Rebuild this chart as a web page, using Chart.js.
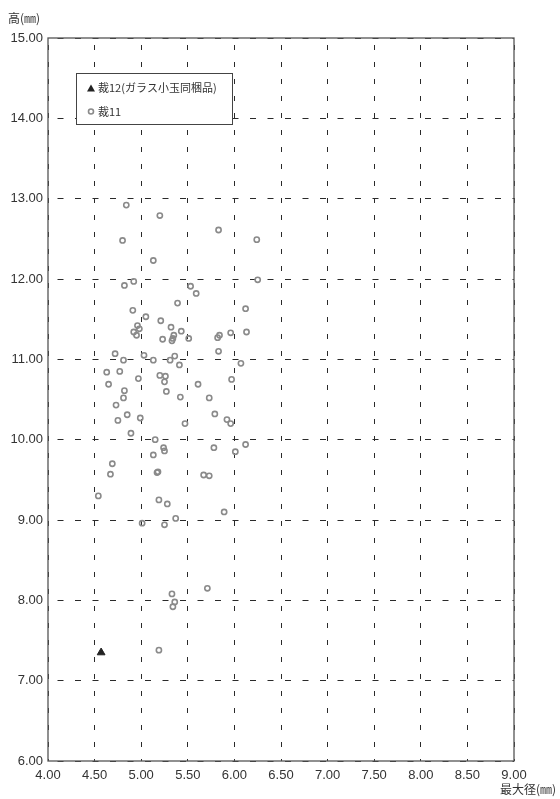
<!DOCTYPE html>
<html>
<head>
<meta charset="utf-8">
<script src="https://cdn.jsdelivr.net/npm/chart.js@4"></script>
<style>
html,body{margin:0;padding:0;background:#fff;}
#wrap{position:relative;width:560px;height:799px;}
</style>
</head>
<body>
<div id="wrap"><canvas id="c" width="560" height="799"></canvas></div>
<script>
const seriesNames = ["裁12(ガラス小玉同梱品)", "裁11"];
const xTitle = "最大径(㎜)";
const yTitle = "高(㎜)";
const xTickValues = [4.0, 4.5, 5.0, 5.5, 6.0, 6.5, 7.0, 7.5, 8.0, 8.5, 9.0];
const yTickValues = [6, 7, 8, 9, 10, 11, 12, 13, 14, 15];

const s12X = [4.57];
const s12Y = [7.35];

const s11X = [4.84, 5.20, 5.83, 6.24, 4.80, 5.13, 4.92, 6.25, 4.82, 5.53,
              5.59, 5.39, 6.12, 4.91, 5.05, 5.21, 4.96, 4.98, 5.32, 4.92,
              4.95, 5.43, 5.35, 5.34, 5.33, 5.23, 5.51, 5.84, 5.82, 5.96,
              6.13, 5.83, 4.72, 5.03, 5.36, 4.81, 5.13, 5.31, 5.41, 6.07,
              4.63, 4.77, 4.97, 5.20, 5.26, 5.25, 4.65, 5.61, 5.97, 4.82,
              5.27, 4.81, 5.42, 5.73, 4.73, 4.85, 5.79, 4.75, 4.99, 5.92,
              5.96, 5.47, 4.89, 5.15, 6.12, 5.24, 5.25, 5.13, 5.78, 6.01,
              4.69, 4.67, 5.17, 5.18, 5.67, 5.73, 4.54, 5.19, 5.28, 5.89,
              5.37, 5.01, 5.25, 5.33, 5.36, 5.34, 5.71, 5.19];
const s11Y = [12.92, 12.79, 12.61, 12.49, 12.48, 12.23, 11.97, 11.99, 11.92, 11.91,
              11.82, 11.70, 11.63, 11.61, 11.53, 11.48, 11.42, 11.38, 11.40, 11.34,
              11.30, 11.35, 11.30, 11.26, 11.23, 11.25, 11.26, 11.30, 11.27, 11.33,
              11.34, 11.10, 11.07, 11.05, 11.04, 10.99, 10.99, 10.99, 10.93, 10.95,
              10.84, 10.85, 10.76, 10.80, 10.79, 10.72, 10.69, 10.69, 10.75, 10.61,
              10.60, 10.52, 10.53, 10.52, 10.43, 10.31, 10.32, 10.24, 10.27, 10.25,
              10.20, 10.20, 10.08, 10.00, 9.94, 9.90, 9.86, 9.81, 9.90, 9.85,
              9.70, 9.57, 9.59, 9.60, 9.56, 9.55, 9.30, 9.25, 9.20, 9.10,
              9.02, 8.96, 8.94, 8.08, 7.98, 7.92, 8.15, 7.38];

const toPts = (xs, ys) => xs.map((x, i) => ({x: x, y: ys[i]}));

const NUM_FONT = "'Liberation Sans', Arial, sans-serif";
const CJK_FONT = "'Noto Sans CJK JP', 'Noto Sans', sans-serif";
const GRID = '#2a2a2a';
const FRAME = '#555';

const decor = {
  id: 'decor',
  afterDraw(chart) {
    const ctx = chart.ctx, a = chart.chartArea;
    ctx.save();
    ctx.strokeStyle = FRAME;
    ctx.lineWidth = 1.3;
    ctx.setLineDash([]);
    ctx.strokeRect(a.left, a.top, a.right - a.left, a.bottom - a.top);
    ctx.fillStyle = '#333';
    ctx.font = "12px " + CJK_FONT;
    ctx.textBaseline = 'middle';
    ctx.textAlign = 'left';
    ctx.fillText(yTitle, 8, 18);
    ctx.textAlign = 'right';
    ctx.fillText(xTitle, 556, 789);
    const bx = 76, by = 73, bw = 156, bh = 51;
    ctx.fillStyle = '#fff';
    ctx.fillRect(bx, by, bw, bh);
    ctx.strokeStyle = '#444';
    ctx.lineWidth = 1;
    ctx.strokeRect(bx + 0.5, by + 0.5, bw, bh);
    const ds = chart.data.datasets;
    ctx.fillStyle = '#222';
    ctx.beginPath();
    ctx.moveTo(91, 84.5); ctx.lineTo(95, 91.5); ctx.lineTo(87, 91.5); ctx.closePath();
    ctx.fill();
    ctx.strokeStyle = '#8a8a8a';
    ctx.lineWidth = 1.6;
    ctx.beginPath();
    ctx.arc(91, 111.5, 2.5, 0, Math.PI * 2);
    ctx.stroke();
    ctx.fillStyle = '#333';
    ctx.font = "11px " + CJK_FONT;
    ctx.textAlign = 'left';
    ctx.textBaseline = 'middle';
    ctx.fillText(ds[0].label, 98, 88);
    ctx.fillText(ds[1].label, 98, 112);
    ctx.restore();
  }
};

new Chart(document.getElementById('c'), {
  type: 'scatter',
  data: {
    datasets: [
      {
        label: seriesNames[0],
        data: toPts(s12X, s12Y),
        pointStyle: 'triangle',
        pointRadius: 4.5,
        backgroundColor: '#222',
        borderColor: '#222',
        borderWidth: 1
      },
      {
        label: seriesNames[1],
        data: toPts(s11X, s11Y),
        pointStyle: 'circle',
        pointRadius: 2.6,
        backgroundColor: 'rgba(255,255,255,0)',
        borderColor: '#8a8a8a',
        borderWidth: 1.6
      }
    ]
  },
  options: {
    responsive: false,
    animation: false,
    devicePixelRatio: 1,
    layout: { padding: { left: 0, right: 46, top: 38, bottom: 0 } },
    plugins: { legend: { display: false }, tooltip: { enabled: false }, title: { display: false } },
    scales: {
      x: {
        type: 'linear',
        min: 4, max: 9,
        afterBuildTicks(scale) { scale.ticks = xTickValues.map(v => ({value: v})); },
        afterFit(scale) { scale.height = 38; },
        ticks: {
          callback: v => Number(v).toFixed(2),
          font: { family: NUM_FONT, size: 13 },
          color: '#333',
          padding: 7,
          maxRotation: 0,
          autoSkip: false
        },
        grid: { color: GRID, lineWidth: 1, drawTicks: false },
        border: { display: false, dash: [5, 12], dashOffset: 10 }
      },
      y: {
        type: 'linear',
        min: 6, max: 15,
        afterBuildTicks(scale) { scale.ticks = yTickValues.map(v => ({value: v})); },
        afterFit(scale) { scale.width = 48; },
        ticks: {
          callback: v => Number(v).toFixed(2),
          font: { family: NUM_FONT, size: 13 },
          color: '#333',
          padding: 5,
          autoSkip: false
        },
        grid: { color: GRID, lineWidth: 1, drawTicks: false },
        border: { display: false, dash: [6, 11.5], dashOffset: 8 }
      }
    }
  },
  plugins: [decor]
});
</script>
</body>
</html>
